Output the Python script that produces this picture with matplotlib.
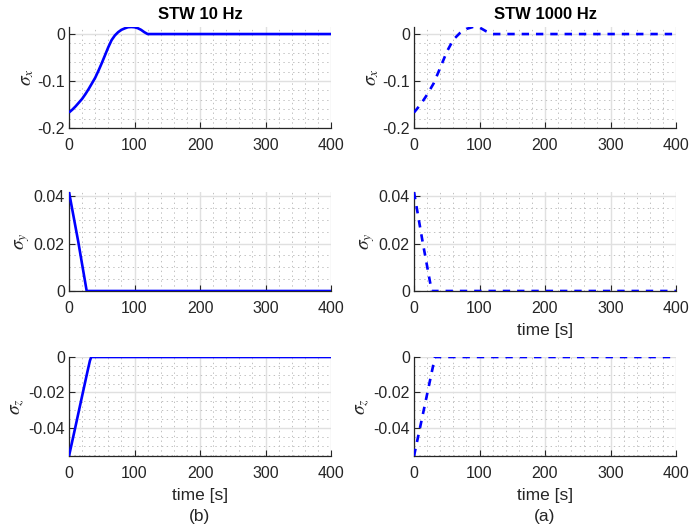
import matplotlib
matplotlib.use("Agg")
import matplotlib.pyplot as plt
from matplotlib.ticker import MultipleLocator, FuncFormatter

plt.rcParams['font.family'] = ['Liberation Sans', 'DejaVu Sans']
plt.rcParams['axes.unicode_minus'] = False
plt.rcParams['mathtext.fontset'] = 'stix'
plt.rcParams['lines.scale_dashes'] = False

# ---- attitude error (MRP) components, STW at 10 Hz ----
t_x10 = [0, 5, 10, 15, 20, 25, 30, 35, 40, 45, 50, 55, 60, 65, 70, 75, 80, 85,
         90, 95, 100, 105, 110, 115, 120, 400]
sx_10 = [-0.167, -0.161, -0.154, -0.146, -0.138, -0.128, -0.117, -0.105,
         -0.093, -0.078, -0.062, -0.045, -0.028, -0.013, -0.003, 0.004,
         0.009, 0.012, 0.0145, 0.015, 0.0145, 0.0125, 0.009, 0.004, 0.0, 0.0]
t_y10 = [0, 14, 27, 400]
sy_10 = [0.0418, 0.021, 0.0, 0.0]
t_z10 = [0, 10, 20, 28, 32, 34, 400]
sz_10 = [-0.0558, -0.039, -0.022, -0.0085, -0.002, 0.0, 0.0]

# ---- attitude error (MRP) components, STW at 1000 Hz ----
t_x1k = [0, 10, 20, 30, 40, 50, 60, 70, 80, 90, 100, 110, 120, 400]
sx_1k = [-0.167, -0.150, -0.129, -0.105, -0.072, -0.038, -0.012, 0.002,
         0.011, 0.015, 0.014, 0.006, 0.0, 0.0]
t_y1k = [0, 13, 27, 400]
sy_1k = [0.0418, 0.021, 0.0, 0.0]
t_z1k = [0, 16, 32, 400]
sz_1k = [-0.0558, -0.028, 0.0, 0.0]

titles = ['STW 10 Hz', 'STW 1000 Hz']
ylabels = [r'$\sigma_x$', r'$\sigma_y$', r'$\sigma_z$']
panel_tags = ['(b)', '(a)']
xticks = [0, 100, 200, 300, 400]

ylims = [(-0.2, 0.015), (0.0, 0.0418), (-0.0558, 0.0)]
yticks = [[-0.2, -0.1, 0.0], [0.0, 0.02, 0.04], [-0.04, -0.02, 0.0]]
yminor = [0.02, 0.005, 0.005]

series = [
    [(t_x10, sx_10), (t_y10, sy_10), (t_z10, sz_10)],
    [(t_x1k, sx_1k), (t_y1k, sy_1k), (t_z1k, sz_1k)],
]
styles = ['-', (0, (5.3, 5.0))]

fig = plt.figure(figsize=(6.89, 5.32), dpi=100)

lefts = [69 / 689, 414 / 689]
width = 262 / 689
rows = [(27, 128), (192, 291), (357, 456)]
axis_col = '#262626'

fmt = FuncFormatter(lambda v, p: ('%g' % round(v, 4)) if abs(v) > 1e-12 else '0')

for c in range(2):
    for r in range(3):
        top, bot = rows[r]
        ax = fig.add_axes([lefts[c], 1 - bot / 532, width, (bot - top) / 532])
        t, y = series[c][r]
        ax.plot(t, y, color='#0000ff', lw=1.9, linestyle=styles[c],
                solid_capstyle='butt', dash_capstyle='butt', zorder=3)
        ax.set_xlim(0, 400)
        ax.set_ylim(*ylims[r])
        ax.set_xticks(xticks)
        ax.set_yticks(yticks[r])
        ax.xaxis.set_minor_locator(MultipleLocator(20))
        ax.yaxis.set_minor_locator(MultipleLocator(yminor[r]))
        ax.yaxis.set_major_formatter(fmt)
        ax.set_axisbelow(True)
        ax.grid(which='major', color='#e0e0e0', lw=1.0, ls='-')
        ax.grid(which='minor', color='#c0c0c0', lw=0.7, ls=(0, (1, 2.5)))
        for s in ['top', 'right']:
            ax.spines[s].set_visible(False)
        for s in ['left', 'bottom']:
            ax.spines[s].set_color(axis_col)
            ax.spines[s].set_linewidth(0.9)
        ax.tick_params(which='major', direction='in', length=4, width=0.8,
                       colors=axis_col, labelsize=11.5)
        ax.tick_params(axis='x', which='major', pad=7)
        ax.tick_params(axis='y', which='major', pad=3)
        ax.tick_params(which='minor', length=0)
        ax.set_ylabel(ylabels[r], fontsize=14, color=axis_col, labelpad=1)
        if r == 0:
            ax.set_title(titles[c], fontsize=12, fontweight='bold',
                         color='black', pad=6)
        if r == 2 or (c == 1 and r == 1):
            ax.set_xlabel('time [s]', fontsize=12.5, color=axis_col, labelpad=5)
        if r == 2:
            ax.text(0.5, -0.615, panel_tags[c], transform=ax.transAxes,
                    ha='center', va='center', fontsize=12.5, color=axis_col)

fig.savefig('out.png', dpi=100)
